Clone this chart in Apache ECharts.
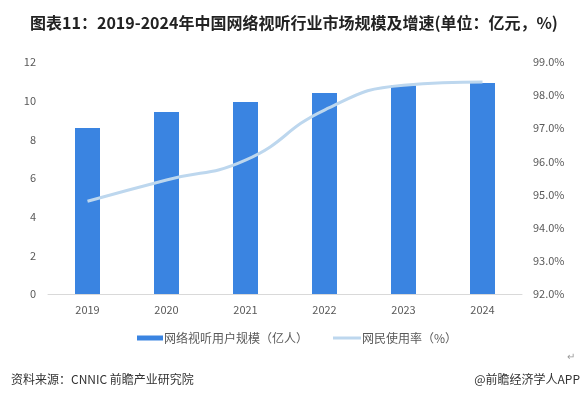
<!DOCTYPE html>
<html>
<head>
<meta charset="utf-8">
<script src="https://cdn.jsdelivr.net/npm/echarts@6/dist/echarts.min.js"></script>
<style>
html,body{margin:0;padding:0;background:#fff;}
#main{width:588px;height:397px;}
</style>
</head>
<body>
<div id="main"></div>
<script>
var years = ['2019', '2020', '2021', '2022', '2023', '2024'];
var users = [8.59, 9.41, 9.93, 10.4, 10.78, 10.92];
var rate = [94.8, 95.44, 96.04, 97.55, 98.3, 98.4];

var font = '"Microsoft YaHei","Noto Sans CJK SC",sans-serif';

var myChart = echarts.init(document.getElementById('main'));
var option = {
    textStyle: { fontFamily: font },
    title: [
        {
            text: '图表11：2019-2024年中国网络视听行业市场规模及增速(单位：亿元，%)',
            left: 'center',
            top: 10,
            textStyle: { fontSize: 16, fontWeight: 'bold', color: '#222', fontFamily: font }
        },
        {
            text: '资料来源：CNNIC 前瞻产业研究院',
            left: 6,
            top: 368,
            textStyle: { fontSize: 12, fontWeight: 'normal', color: '#333', fontFamily: font }
        },
        {
            text: '@前瞻经济学人APP',
            right: 3,
            top: 368,
            textStyle: { fontSize: 12, fontWeight: 'normal', color: '#333', fontFamily: font }
        },
        {
            text: '↵',
            right: 8,
            top: 346,
            textStyle: { fontSize: 10, fontWeight: 'normal', color: '#999', fontFamily: font }
        }
    ],
    grid: { left: 48, right: 66, top: 62, bottom: 103 },
    legend: [
        {
            left: 132,
            top: 327,
            itemWidth: 26,
            itemHeight: 5,
            textStyle: { fontSize: 12, color: '#595959', padding: [0, 0, 0, -4] },
            data: [{ name: '网络视听用户规模（亿人）', icon: 'rect' }]
        },
        {
            left: 328,
            top: 327,
            itemWidth: 28,
            itemHeight: 3,
            textStyle: { fontSize: 12, color: '#595959', padding: [0, 0, 0, -4] },
            data: [{ name: '网民使用率（%）', icon: 'rect' }]
        }
    ],
    xAxis: {
        type: 'category',
        data: years,
        axisLine: { lineStyle: { color: '#d9d9d9' } },
        axisTick: { show: false },
        axisLabel: { color: '#595959', fontSize: 11, margin: 10 }
    },
    yAxis: [
        {
            type: 'value',
            min: 0,
            max: 12,
            interval: 2,
            splitLine: { show: false },
            axisLine: { show: false },
            axisTick: { show: false },
            axisLabel: { color: '#595959', fontSize: 11, margin: 12 }
        },
        {
            type: 'value',
            min: 92,
            max: 99,
            interval: 1,
            splitLine: { show: false },
            axisLine: { show: false },
            axisTick: { show: false },
            axisLabel: {
                color: '#595959',
                fontSize: 11,
                margin: 11,
                formatter: function (v) { return v.toFixed(1) + '%'; }
            }
        }
    ],
    series: [
        {
            name: '网络视听用户规模（亿人）',
            type: 'bar',
            barWidth: 25,
            itemStyle: { color: '#3A84E1' },
            data: users
        },
        {
            name: '网民使用率（%）',
            type: 'line',
            yAxisIndex: 1,
            smooth: true,
            symbol: 'none',
            lineStyle: { color: '#BDD7EE', width: 3 },
            itemStyle: { color: '#BDD7EE' },
            data: rate
        }
    ]
};
myChart.setOption(option);

window.addEventListener('resize', function () {
    myChart.resize();
}, false);
</script>
</body>
</html>
